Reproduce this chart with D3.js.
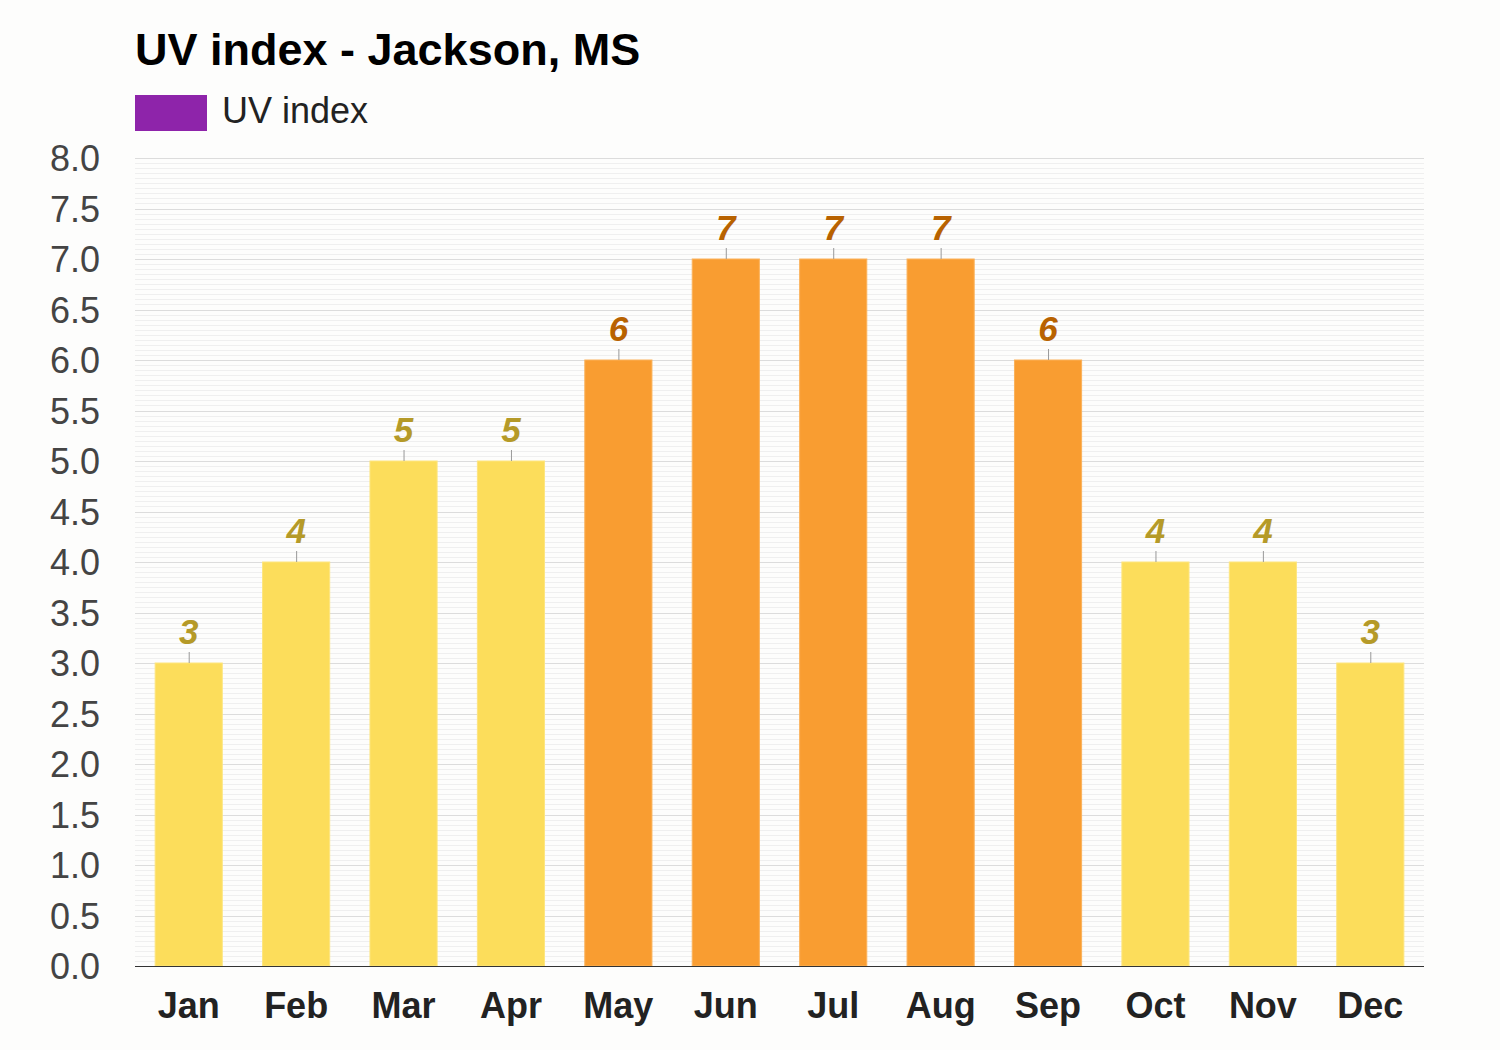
<!DOCTYPE html>
<html><head><meta charset="utf-8">
<script src="https://cdn.jsdelivr.net/npm/d3@7"></script>
<style>body{margin:0;background:#fdfdfc;}svg{display:block;font-family:"Liberation Sans",Arial,sans-serif;}</style>
</head><body><svg id="c" width="1500" height="1050"></svg>
<script>
const months = ["Jan","Feb","Mar","Apr","May","Jun","Jul","Aug","Sep","Oct","Nov","Dec"];
const uvValues = [3,4,5,5,6,7,7,7,6,4,4,3];
const yTickValues = [0,0.5,1,1.5,2,2.5,3,3.5,4,4.5,5,5.5,6,6.5,7,7.5,8];
const title = "UV index - Jackson, MS";
const legendLabel = "UV index";

const svg = d3.select("#c");
svg.append("rect").attr("width",1500).attr("height",1050).attr("fill","#fdfdfc");
const L=135,R=1424,T=158,B=966;
const x = d3.scaleBand().domain(months).range([L,R]).paddingInner(0.375).paddingOuter(0.1875);
const y = d3.scaleLinear().domain([0,8]).range([B,T]);

// minor grid
const minor = d3.range(0,8.0001,0.05);
svg.append("g").selectAll("line").data(minor).join("line")
 .attr("x1",L).attr("x2",R).attr("y1",d=>Math.round(y(d))+0.5).attr("y2",d=>Math.round(y(d))+0.5)
 .attr("stroke","#efefef").attr("stroke-width",1);
svg.append("g").selectAll("line").data(yTickValues).join("line")
 .attr("x1",L).attr("x2",R).attr("y1",d=>Math.round(y(d))+0.5).attr("y2",d=>Math.round(y(d))+0.5)
 .attr("stroke","#dcdcdc").attr("stroke-width",1);

// y axis labels
const yAxis = d3.axisLeft(y).tickValues(yTickValues).tickFormat(d3.format(".1f")).tickSize(0).tickPadding(35);
const ga = svg.append("g").attr("transform",`translate(${L},0)`).call(yAxis);
ga.select(".domain").remove();
ga.selectAll("text").attr("font-size",36).attr("dy","0.36em").attr("fill","#444").attr("font-family","Liberation Sans, Arial, sans-serif");

const isHigh = v => v>=6;
svg.append("g").selectAll("rect").data(uvValues).join("rect")
 .attr("x",(d,i)=>x(months[i])).attr("width",x.bandwidth())
 .attr("y",d=>y(d)).attr("height",d=>B-y(d))
 .attr("fill",d=>isHigh(d)?"#f99d31":"#fcdd5b")
 .attr("stroke",d=>isHigh(d)?"#fbb25a":"#fde57f").attr("stroke-width",1);

// tick marks above bars
svg.append("g").selectAll("line").data(uvValues).join("line")
 .attr("x1",(d,i)=>x(months[i])+x.bandwidth()/2+0.5).attr("x2",(d,i)=>x(months[i])+x.bandwidth()/2+0.5)
 .attr("y1",d=>y(d)).attr("y2",d=>y(d)-11).attr("stroke","#999").attr("stroke-width",1);

svg.append("g").selectAll("text").data(uvValues).join("text")
 .attr("x",(d,i)=>x(months[i])+x.bandwidth()/2).attr("y",d=>y(d)-19)
 .attr("text-anchor","middle").attr("font-size",35).attr("font-weight","bold").attr("font-style","italic")
 .attr("fill",d=>isHigh(d)?"#b86200":"#b59a28").text(d=>d);

// baseline
svg.append("line").attr("x1",L).attr("x2",R).attr("y1",B+0.5).attr("y2",B+0.5).attr("stroke","#333").attr("stroke-width",1.2);

// x axis
const xAxis = d3.axisBottom(x).tickSize(0).tickPadding(0);
const gx = svg.append("g").attr("transform",`translate(0,${B})`).call(xAxis);
gx.select(".domain").remove();
gx.selectAll("text").attr("dy",null).attr("y",52).attr("font-size",36).attr("font-weight","bold").attr("fill","#222").attr("font-family","Liberation Sans, Arial, sans-serif");

svg.append("text").attr("x",135).attr("y",65).attr("font-size",45).attr("font-weight","bold").attr("fill","#000").text(title);
svg.append("rect").attr("x",135).attr("y",95).attr("width",72).attr("height",36).attr("fill","#8e24aa");
svg.append("text").attr("x",222).attr("y",123).attr("font-size",36).attr("fill","#222").text(legendLabel);
</script></body></html>
